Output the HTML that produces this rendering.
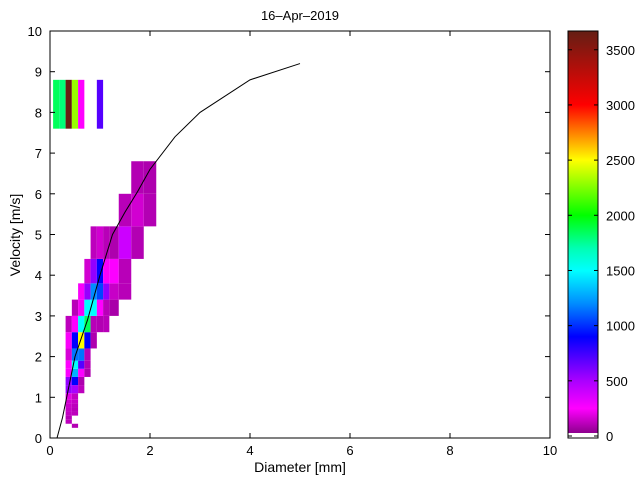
<!DOCTYPE html>
<html><head><meta charset="utf-8">
<style>
html,body{margin:0;padding:0;background:#fff;}
svg{display:block;font-family:"Liberation Sans",Arial,sans-serif;}
</style></head>
<body>
<svg id="chart" width="640" height="480" viewBox="0 0 640 480" xmlns="http://www.w3.org/2000/svg">
<g id="cells"></g>
<g id="curve"></g>
<g id="axes"></g>
<g id="cbar"></g>
<text x="300" y="20" text-anchor="middle" font-size="13">16–Apr–2019</text>
<text x="300" y="472" text-anchor="middle" font-size="14">Diameter [mm]</text>
<text x="20" y="235" text-anchor="middle" font-size="14" transform="rotate(-90 20 235)">Velocity [m/s]</text>
</svg>
<script>
// bin edges (class centers used as pcolor corners)
const diamEdges = [0.062,0.187,0.312,0.437,0.562,0.687,0.812,0.937,1.062,1.187,1.375,1.625,1.875,2.125,2.375,2.75];
const velEdges = [0.05,0.15,0.25,0.35,0.45,0.55,0.65,0.75,0.85,0.95,1.1,1.3,1.5,1.7,1.9,2.2,2.6,3.0,3.4,3.8,4.4,5.2,6.0,6.8,7.6,8.8];
// rows: velocity bin index, first diameter bin index, counts
const rowVel   = [2,3,4,5,6,7,8,9,10,11,12,13,14,15,16,17,18,19,20,21,22,24];
const rowStart = [3,2,2,2,2,2,2,2,2,2,2,2,2,2,2,3,4,5,6,10,11,0];
const rowCounts = [
 [100],
 [120],
 [110],
 [130,120],
 [140,110],
 [150,120],
 [160,140],
 [200,130],
 [550,500,120],
 [560,900,90],
 [260,1300,260,90],
 [250,1500,700,100],
 [170,1150,1150,110],
 [240,900,2500,900,90],
 [120,250,1500,1850,110,100,110],
 [110,230,1500,1500,250,110,80],
 [240,550,1200,1050,560,140,110],
 [160,560,900,240,260,110],
 [120,160,110,90,400,100],
 [110,160,100],
 [100,90],
 [1850,1800,3650,2300,250,0,0,700]
];
const cbTicks = [0,500,1000,1500,2000,2500,3000,3500];
const xTicks = [0,2,4,6,8,10];
const yTicks = [0,1,2,3,4,5,6,7,8,9,10];
const curveD = [0.14,0.25,0.5,0.75,1,1.25,1.5,1.75,2,2.5,3,4,5];
const curveV = [0,0.5,2.0,2.9,4.0,5.0,5.55,6.05,6.6,7.4,8.0,8.8,9.2];

const CMAX = 3670;
const X0=50,X1=550,Y0=438,Y1=31;
const sx = d => X0 + (X1-X0)*d/10;
const sy = v => Y0 - (Y0-Y1)*v/10;
const CB = {x:568,w:30,top:31,bot:436};
const cy = c => CB.bot - (CB.bot-CB.top)*c/CMAX;

const stops = [[0,[128,0,128]],[250,[255,0,255]],[500,[170,0,255]],[900,[0,0,255]],[1200,[0,140,255]],[1500,[0,255,255]],[1700,[0,255,180]],[2000,[0,255,0]],[2500,[255,255,0]],[2750,[255,128,0]],[3000,[255,0,0]],[3670,[100,30,20]]];
function color(c){
  for(let i=1;i<stops.length;i++){
    if(c<=stops[i][0]){
      const [a,ca]=stops[i-1],[b,cb]=stops[i];
      const t=(c-a)/(b-a);
      return 'rgb('+ca.map((v,k)=>Math.round(v+(cb[k]-v)*t)).join(',')+')';
    }
  }
  return 'rgb(100,30,20)';
}
const NS='http://www.w3.org/2000/svg';
function mk(tag,attrs,parent){const e=document.createElementNS(NS,tag);for(const k in attrs)e.setAttribute(k,attrs[k]);parent.appendChild(e);return e;}

const cells=document.getElementById('cells');
rowVel.forEach((vi,r)=>{
  rowCounts[r].forEach((c,k)=>{
    if(c<=0) return;
    const di=rowStart[r]+k;
    const x=sx(diamEdges[di]), x2=sx(diamEdges[di+1]);
    const y=sy(velEdges[vi+1]), y2=sy(velEdges[vi]);
    const el=mk('rect',{x:x,y:y,width:x2-x,height:y2-y,fill:color(c)},cells);
    
    
  });
});

const cg=document.getElementById('curve');
const pl=mk('polyline',{points:curveD.map((d,i)=>sx(d)+','+sy(curveV[i])).join(' '),fill:'none',stroke:'#000','stroke-width':1},cg);



const ax=document.getElementById('axes');
const fr=mk('rect',{x:X0,y:Y1,width:X1-X0,height:Y0-Y1,fill:'none',stroke:'#000','stroke-width':1},ax);


xTicks.forEach(t=>{
  const x=sx(t);
  mk('line',{x1:x,y1:Y0,x2:x,y2:Y0-5,stroke:'#000'},ax);
  mk('line',{x1:x,y1:Y1,x2:x,y2:Y1+5,stroke:'#000'},ax);
  const tx=mk('text',{x:x,y:Y0+17,'text-anchor':'middle','font-size':13},ax);
  tx.textContent=t;
  
  
});
yTicks.forEach(t=>{
  const y=sy(t);
  mk('line',{x1:X0,y1:y,x2:X0+5,y2:y,stroke:'#000'},ax);
  mk('line',{x1:X1,y1:y,x2:X1-5,y2:y,stroke:'#000'},ax);
  const tx=mk('text',{x:X0-8,y:y+5,'text-anchor':'end','font-size':13},ax);
  tx.textContent=t;
  
  
});

const cbg=document.getElementById('cbar');
const defs=mk('defs',{},cbg);
const grad=mk('linearGradient',{id:'cg',x1:0,y1:1,x2:0,y2:0},defs);
stops.forEach(s=>{mk('stop',{offset:s[0]/CMAX,'stop-color':color(s[0])},grad);});
const cr=mk('rect',{x:CB.x,y:CB.top,width:CB.w,height:CB.bot-CB.top,fill:'url(#cg)'},cbg);


mk('rect',{x:CB.x,y:CB.bot-3,width:CB.w,height:3,fill:'#fff'},cbg);
mk('rect',{x:CB.x,y:CB.top,width:CB.w,height:438-CB.top,fill:'none',stroke:'#000'},cbg);
cbTicks.forEach(t=>{
  const y=cy(t);
  mk('line',{x1:CB.x,y1:y,x2:CB.x+4,y2:y,stroke:'#000'},cbg);
  mk('line',{x1:CB.x+CB.w,y1:y,x2:CB.x+CB.w-4,y2:y,stroke:'#000'},cbg);
  const tx=mk('text',{x:606,y:y+5,'font-size':13},cbg);
  tx.textContent=t;
  
  
});
</script>
</body></html>
